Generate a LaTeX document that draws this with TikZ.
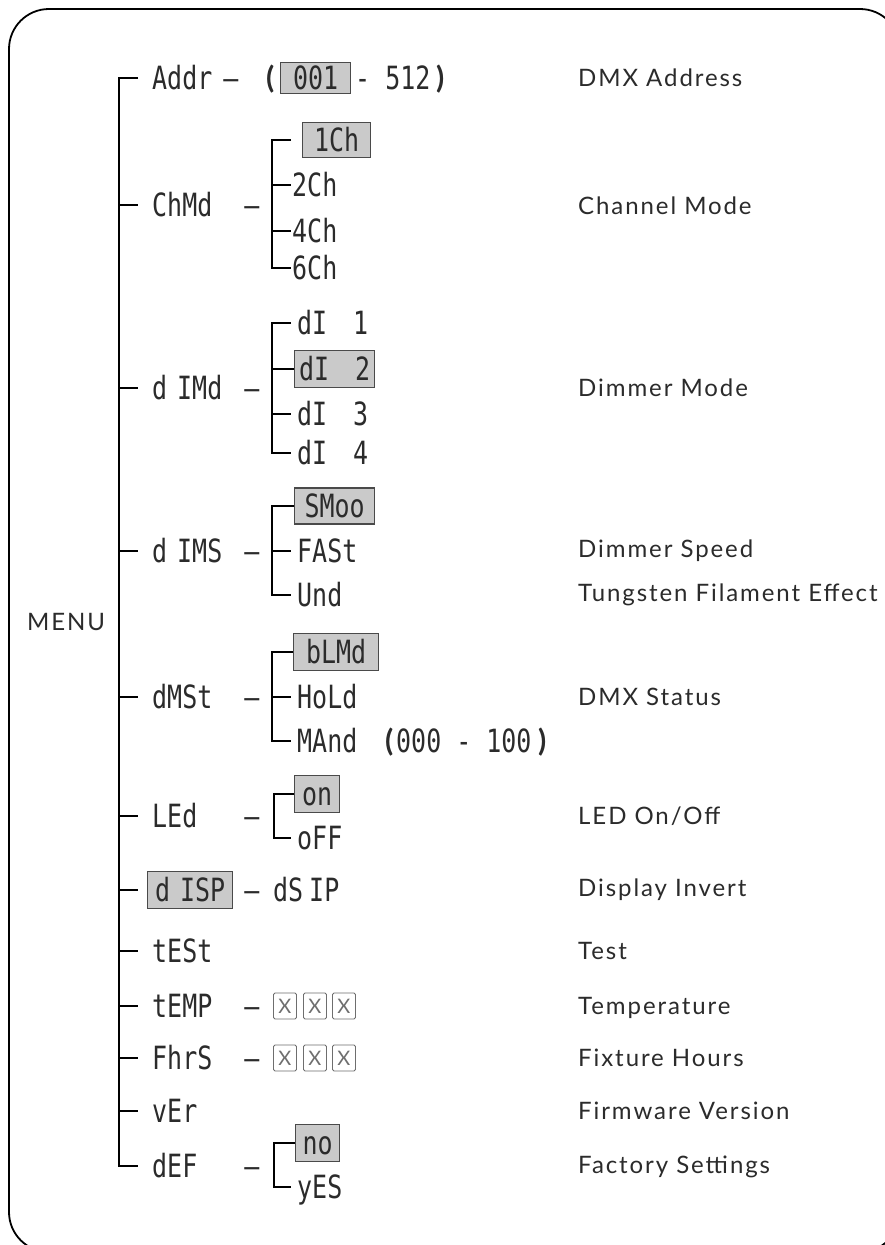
\documentclass[tikz,border=0pt]{standalone}
\usepackage{fontspec}
\setmainfont{Lato}
\newfontfamily\segfont[FakeStretch=0.78]{DejaVu Sans Mono}
\newfontfamily\lblfont[LetterSpace=8]{Lato}
\usetikzlibrary{calc}
\definecolor{ink}{HTML}{2B2B2B}
\definecolor{hlfill}{HTML}{CACACA}
\definecolor{hlline}{HTML}{4A4A4A}
\definecolor{xline}{HTML}{6E6E6E}
\begin{document}
\begin{tikzpicture}[x=1pt,y=-1pt,
  tree/.style={line width=2.6pt, draw=black, line join=miter},
  frame/.style={line width=1.8pt, draw=black, rounded corners=40pt},
  code/.style={font=\segfont\fontsize{32}{32}\selectfont, text=ink, inner sep=0pt, anchor=west, text height=23.3pt, text depth=0pt},
  hl/.style={code, draw=hlline, fill=hlfill, line width=1.3pt},
  dashtxt/.style={code, anchor=center},
  paren/.style={font=\bfseries\fontsize{30}{30}\selectfont, text=ink, inner sep=0pt, anchor=west, text height=21pt, text depth=0pt},
  xbox/.style={draw=xline, line width=0.9pt, rounded corners=1.5pt, minimum width=23pt, minimum height=26pt, inner sep=0pt, anchor=west, font=\fontsize{20}{20}\selectfont, text=xline},
  lbl/.style={font=\lblfont\fontsize{24}{24}\selectfont, text=ink, anchor=west, inner sep=0pt, text height=17.3pt, text depth=0pt}
]
\fill[white] (0,0) rectangle (885,1245);
\useasboundingbox (0,0) rectangle (885,1245);
\draw[frame] (9,9) rectangle (900,1252);

% ---- main column of codes
\node[code] (addr) at (152,78) {Addr};
\node[dashtxt] (addrd) at (231,78) {–};
\node[paren] (addrl) at (266,78) {(};
\node[hl, minimum width=70pt, minimum height=31pt] (a001) at (280,78) {001};
\node[code] (a512) at (355,78) {- 512};
\node[paren] (addrr) at (436,78) {)};

\node[code] (chmd) at (152,205) {ChMd};
\node[dashtxt] (chmdd) at (252,205) {–};
\node[code] (dimd) at (152,388) {d\kern10pt IMd};
\node[dashtxt] (dimdd) at (252,388) {–};
\node[code] (dims) at (152,551) {d\kern10pt IMS};
\node[dashtxt] (dimsd) at (252,551) {–};
\node[code] (dmst) at (152,697) {dMSt};
\node[dashtxt] (dmstd) at (252,697) {–};
\node[code] (led) at (152,816) {LEd};
\node[dashtxt] (ledd) at (252,816) {–};
\node[hl, minimum width=85pt, minimum height=37pt] (disp) at (147,890) {d\kern10pt ISP};
\node[dashtxt] (dispd) at (252,890) {–};
\node[code] (dsip) at (273,890) {dS\kern6pt IP};
\node[code] (test) at (152,951) {tESt};
\node[code] (temp) at (152,1006) {tEMP};
\node[dashtxt] (tempd) at (252,1006) {–};
\node[xbox] (tx1) at (273,1006) {X};
\node[xbox] (tx2) at (303,1006) {X};
\node[xbox] (tx3) at (332,1006) {X};
\node[code] (fhrs) at (152,1058) {FhrS};
\node[dashtxt] (fhrsd) at (252,1058) {–};
\node[xbox] (fx1) at (273,1058) {X};
\node[xbox] (fx2) at (303,1058) {X};
\node[xbox] (fx3) at (332,1058) {X};
\node[code] (ver) at (152,1111) {vEr};
\node[code] (def) at (152,1166) {dEF};
\node[dashtxt] (defd) at (252,1166) {–};

% ---- sub items
\node[hl, minimum width=68pt, minimum height=35pt] (ch1) at (302,140) {1Ch};
\node[code] (ch2) at (292,185) {2Ch};
\node[code] (ch4) at (292,231) {4Ch};
\node[code] (ch6) at (292,268) {6Ch};

\node[code] (di1) at (297,323) {dI\kern26pt 1};
\node[hl, minimum width=80pt, minimum height=37pt] (di2) at (294,369) {dI\kern26pt 2};
\node[code] (di3) at (297,414) {dI\kern26pt 3};
\node[code] (di4) at (297,453) {dI\kern26pt 4};

\node[hl, minimum width=80pt, minimum height=36pt] (smoo) at (294,506) {SMoo};
\node[code] (fast) at (297,551) {FASt};
\node[code] (und) at (297,595) {Und};

\node[hl, minimum width=85pt, minimum height=37pt] (blmd) at (293,652) {bLMd};
\node[code] (hold) at (297,697) {HoLd};
\node[code] (mand) at (297,741) {MAnd};
\node[paren] (mandl) at (385,741) {(};
\node[code] (mandr) at (396,741) {000 - 100};
\node[paren] (mandrr) at (538,741) {)};

\node[hl, minimum width=45pt, minimum height=37pt] (on) at (294,794) {on};
\node[code] (off) at (297,838) {oFF};

\node[hl, minimum width=44pt, minimum height=37pt] (no) at (295,1143) {no};
\node[code] (yes) at (297,1187) {yES};

% ---- descriptions
\node[lbl] (menu) at (27,622) {MENU};
\node[lbl] (l1) at (578,78) {DMX Address};
\node[lbl] (l2) at (578,206) {Channel Mode};
\node[lbl] (l3) at (578,388) {Dimmer Mode};
\node[lbl] (l4) at (578,549) {Dimmer Speed};
\node[lbl] (l5) at (578,593) {Tungsten Filament Effect};
\node[lbl] (l6) at (578,697) {DMX Status};
\node[lbl] (l7) at (578,816) {LED On/Off};
\node[lbl] (l8) at (578,888) {Display Invert};
\node[lbl] (l9) at (578,951) {Test};
\node[lbl] (l10) at (578,1006) {Temperature};
\node[lbl] (l11) at (578,1058) {Fixture Hours};
\node[lbl] (l12) at (578,1111) {Firmware Version};
\node[lbl] (l13) at (578,1165) {Factory Settings};

% ---- tree connectors
\coordinate (sx) at (119,0);
\coordinate (tx) at (138,0);
\coordinate (bx) at (272,0);
\coordinate (bx2) at (274,0);
\coordinate (bxe) at (291,0);

\draw[tree] (tx |- addr.west) -| (sx |- def.west) -- (tx |- def.west);
\foreach \n in {chmd,dimd,dims,dmst,led,disp,test,temp,fhrs,ver}
  \draw[tree] (sx |- \n.west) -- (tx |- \n.west);

\draw[tree] (bxe |- ch1.west) -| (bx |- ch6.west) -- (bxe |- ch6.west);
\draw[tree] (bx |- ch2.west) -- (bxe |- ch2.west);
\draw[tree] (bx |- ch4.west) -- (bxe |- ch4.west);

\draw[tree] (bxe |- di1.west) -| (bx |- di4.west) -- (bxe |- di4.west);
\draw[tree] (bx |- di2.west) -- (di2.west);
\draw[tree] (bx |- di3.west) -- (bxe |- di3.west);

\draw[tree] (smoo.west) -| (bx |- und.west) -- (bxe |- und.west);
\draw[tree] (bx |- fast.west) -- (bxe |- fast.west);

\draw[tree] (blmd.west) -| (bx |- mand.west) -- (bxe |- mand.west);
\draw[tree] (bx |- hold.west) -- (bxe |- hold.west);

\draw[tree] (on.west) -| (bx2 |- off.west) -- (bxe |- off.west);
\draw[tree] (no.west) -| (bx2 |- yes.west) -- (bxe |- yes.west);
\end{tikzpicture}
\end{document}
